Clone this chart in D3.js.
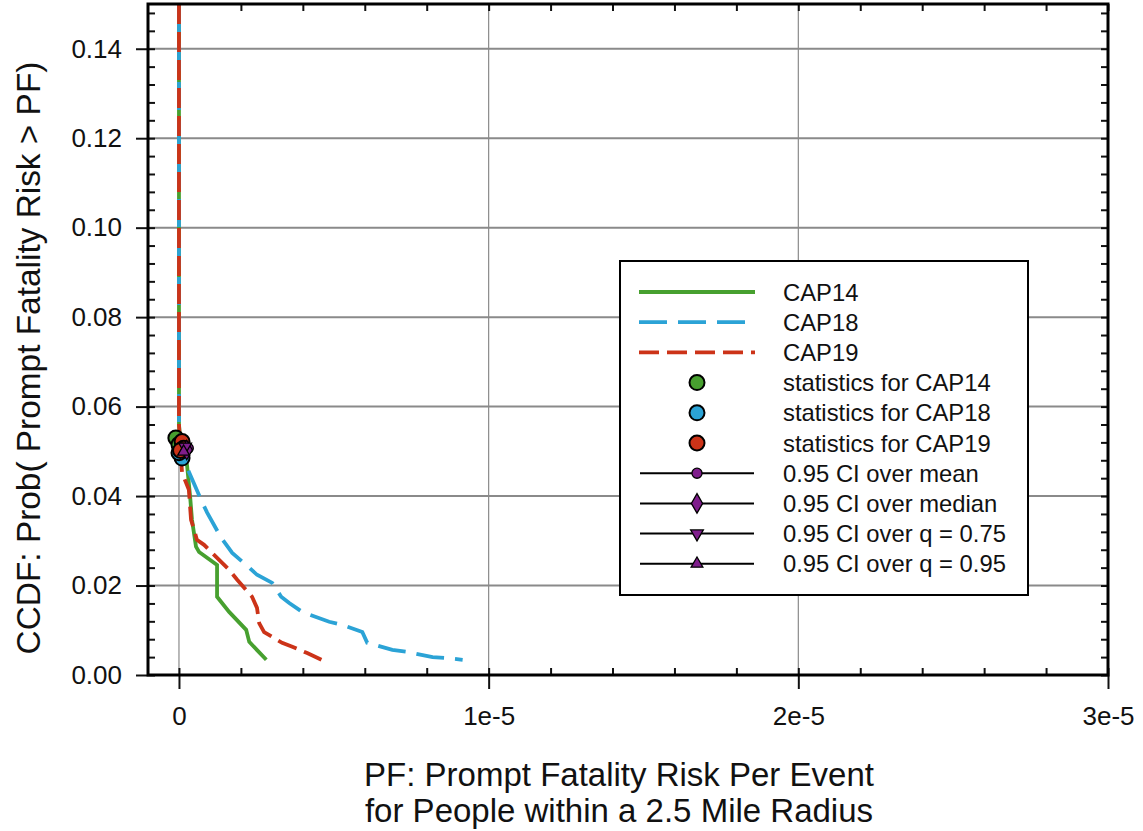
<!DOCTYPE html>
<html>
<head>
<meta charset="utf-8">
<script src="https://cdn.jsdelivr.net/npm/d3@7"></script>
<style>
  body { margin: 0; background: #fff; }
  text { font-family: "Liberation Sans", Arial, sans-serif; fill: #111; }
</style>
</head>
<body>
<script>
// CCDF curves, x = prompt fatality risk, y = Prob(risk > x)
const cap14 = [[0, 0.15], [0, 0.056], [0.05e-6, 0.052], [0.26e-6, 0.047], [0.36e-6, 0.0399], [0.42e-6, 0.0347],
  [0.55e-6, 0.0287], [0.65e-6, 0.0275], [1.23e-6, 0.0246], [1.23e-6, 0.0175], [1.62e-6, 0.0141],
  [2.17e-6, 0.0101], [2.27e-6, 0.0074], [2.82e-6, 0.0034]];
const cap18 = [[0, 0.15], [0, 0.056], [0.05e-6, 0.051], [0.26e-6, 0.0464], [0.71e-6, 0.0392], [0.91e-6, 0.0363],
  [1.36e-6, 0.0307], [1.72e-6, 0.0273], [2.27e-6, 0.024], [2.52e-6, 0.0224], [3.01e-6, 0.0206],
  [3.3e-6, 0.0175], [3.56e-6, 0.0161], [3.98e-6, 0.0141], [4.85e-6, 0.0119], [5.28e-6, 0.0112],
  [5.92e-6, 0.0096], [6.08e-6, 0.0072], [6.89e-6, 0.0056], [7.35e-6, 0.0052], [8.19e-6, 0.004],
  [8.64e-6, 0.0038], [9.16e-6, 0.0034]];
const cap19 = [[0, 0.15], [0, 0.056], [0.05e-6, 0.05], [0.1e-6, 0.0452], [0.32e-6, 0.0414], [0.39e-6, 0.0347],
  [0.49e-6, 0.0325], [0.58e-6, 0.0302], [0.81e-6, 0.0291], [1.07e-6, 0.0273], [1.62e-6, 0.0235],
  [1.88e-6, 0.0213], [2.36e-6, 0.0175], [2.52e-6, 0.015], [2.59e-6, 0.0116], [2.75e-6, 0.0096],
  [3.33e-6, 0.0072], [3.66e-6, 0.0063], [4.14e-6, 0.0049], [4.6e-6, 0.0034]];

// statistics markers (the cluster near the origin)
const stats14 = [[-0.1e-6, 0.0530], [0.0, 0.0515]];
const stats18 = [[0.1e-6, 0.0485], [0.0, 0.0497]];
const stats19 = [[0.1e-6, 0.0522], [0.15e-6, 0.0507], [0.05e-6, 0.0502]];
// confidence intervals: [low, high, center, y]
const ciMean = [[-0.1e-6, 0.4e-6, 0.3e-6, 0.0507]];
const ciMedian = [[-0.1e-6, 0.35e-6, 0.25e-6, 0.0503]];
const ciQ75 = [[-0.05e-6, 0.3e-6, 0.2e-6, 0.0510]];
const ciQ95 = [[-0.05e-6, 0.3e-6, 0.15e-6, 0.0499]];

const xMajor = [0, 1e-5, 2e-5, 3e-5];
const xTickLabels = ['0', '1e-5', '2e-5', '3e-5'];
const yMajor = [0, 0.02, 0.04, 0.06, 0.08, 0.10, 0.12, 0.14];

const legendLabels = ['CAP14', 'CAP18', 'CAP19', 'statistics for CAP14', 'statistics for CAP18',
  'statistics for CAP19', '0.95 CI over mean', '0.95 CI over median', '0.95 CI over q = 0.75', '0.95 CI over q = 0.95'];

const green = '#47a02f', blue = '#2ba3d6', red = '#cc3318', purple = '#7f1d8c';

const width = 1143, height = 831;
const svg = d3.select('body').append('svg').attr('width', width).attr('height', height);

const x = d3.scaleLinear().domain([-1e-6, 3e-5]).range([148, 1108]);
const y = d3.scaleLinear().domain([0, 0.15]).range([675, 4]);

const xMinor = d3.range(0, 3.0001e-5, 2e-6);
const yMinor = d3.range(0, 0.1501, 0.004);

// grid
svg.append('g').selectAll('line').data(yMajor.slice(1)).enter().append('line')
  .attr('x1', 148).attr('x2', 1108).attr('y1', d => y(d)).attr('y2', d => y(d))
  .attr('stroke', '#8a8a8a').attr('stroke-width', 2);
svg.append('g').selectAll('line').data(xMajor.slice(0, 3)).enter().append('line')
  .attr('x1', d => x(d)).attr('x2', d => x(d)).attr('y1', 4).attr('y2', 675)
  .attr('stroke', '#8a8a8a').attr('stroke-width', 1.2);

// minor ticks on all four sides, pointing inwards
svg.append('g').attr('transform', 'translate(148,0)')
  .call(d3.axisLeft(y).tickValues(yMinor).tickSize(-7).tickFormat(''));
svg.append('g').attr('transform', 'translate(1108,0)')
  .call(d3.axisRight(y).tickValues(yMinor).tickSize(-7).tickFormat(''));
svg.append('g').attr('transform', 'translate(0,675)')
  .call(d3.axisBottom(x).tickValues(xMinor).tickSize(-7).tickFormat(''));
svg.append('g').attr('transform', 'translate(0,4)')
  .call(d3.axisTop(x).tickValues(xMinor).tickSize(-7).tickFormat(''));

// major ticks + labels
const yAx = svg.append('g').attr('transform', 'translate(148,0)')
  .call(d3.axisLeft(y).tickValues(yMajor).tickSize(12).tickPadding(14).tickFormat(d3.format('.2f')));
const xAx = svg.append('g').attr('transform', 'translate(0,675)')
  .call(d3.axisBottom(x).tickValues(xMajor).tickSize(14).tickFormat((d, i) => xTickLabels[i]));
xAx.selectAll('text').attr('y', 32).attr('dy', '0.71em');
svg.selectAll('.domain').remove();
svg.selectAll('.tick line').attr('stroke', '#111').attr('stroke-width', 2);
svg.selectAll('.tick text').attr('font-size', 26).attr('font-family', '"Liberation Sans", Arial, sans-serif').attr('fill', '#111');

// curves
const line = d3.line().x(d => x(d[0])).y(d => y(d[1]));
const series = [
  { data: cap14, color: green, dash: null },
  { data: cap18, color: blue, dash: '28,11' },
  { data: cap19, color: red, dash: '20,8' }
];
svg.append('g').selectAll('path').data(series).enter().append('path')
  .attr('d', d => line(d.data)).attr('fill', 'none')
  .attr('stroke', d => d.color).attr('stroke-width', 3.8)
  .attr('stroke-dasharray', d => d.dash);

// CI bars
const ciAll = [ciMean, ciMedian, ciQ75, ciQ95];
svg.append('g').selectAll('line').data(ciAll.flat()).enter().append('line')
  .attr('x1', d => x(d[0])).attr('x2', d => x(d[1])).attr('y1', d => y(d[3])).attr('y2', d => y(d[3]))
  .attr('stroke', '#000').attr('stroke-width', 2);

// statistics circles
[[stats14, green], [stats18, blue], [stats19, red]].forEach(([pts, c]) => {
  svg.append('g').selectAll('circle').data(pts).enter().append('circle')
    .attr('cx', d => x(d[0])).attr('cy', d => y(d[1])).attr('r', 7.5)
    .attr('fill', c).attr('stroke', '#000').attr('stroke-width', 2);
});

const symbols = [d3.symbolCircle, d3.symbolDiamond, d3.symbolTriangle, d3.symbolTriangle];
const symSize = [80, 110, 70, 60];
const symRot = [0, 0, 180, 0];
ciAll.forEach((arr, k) => {
  svg.append('g').selectAll('path').data(arr).enter().append('path')
    .attr('d', d3.symbol().type(symbols[k]).size(symSize[k]))
    .attr('transform', d => `translate(${x(d[2])},${y(d[3])}) rotate(${symRot[k]})`)
    .attr('fill', purple).attr('stroke', '#000').attr('stroke-width', 1.3);
});

// frame
svg.append('rect').attr('x', 148).attr('y', 4).attr('width', 960).attr('height', 671)
  .attr('fill', 'none').attr('stroke', '#000').attr('stroke-width', 3);

// legend
const lg = svg.append('g');
lg.append('rect').attr('x', 620).attr('y', 261).attr('width', 408).attr('height', 334)
  .attr('fill', '#fff').attr('stroke', '#000').attr('stroke-width', 2);
const rowY = i => 292 + i * 30.2;
lg.selectAll('text').data(legendLabels).enter().append('text')
  .attr('x', 783).attr('y', (d, i) => rowY(i)).attr('dy', '0.36em')
  .attr('font-size', 23.8).text(d => d);
series.forEach((s, i) => {
  lg.append('line').attr('x1', 639).attr('x2', 755).attr('y1', rowY(i)).attr('y2', rowY(i))
    .attr('stroke', s.color).attr('stroke-width', 3.8).attr('stroke-dasharray', s.dash);
});
[green, blue, red].forEach((c, i) => {
  lg.append('circle').attr('cx', 697).attr('cy', rowY(3 + i)).attr('r', 7.5)
    .attr('fill', c).attr('stroke', '#000').attr('stroke-width', 2);
});
symbols.forEach((s, k) => {
  const yy = rowY(6 + k);
  lg.append('line').attr('x1', 640).attr('x2', 754).attr('y1', yy).attr('y2', yy)
    .attr('stroke', '#000').attr('stroke-width', 2);
  lg.append('path').attr('d', d3.symbol().type(s).size(symSize[k]))
    .attr('transform', `translate(697,${yy}) rotate(${symRot[k]})`)
    .attr('fill', purple).attr('stroke', '#000').attr('stroke-width', 1.3);
});

// axis titles
svg.append('text').attr('x', 619).attr('y', 786).attr('text-anchor', 'middle')
  .attr('font-size', 33).text('PF: Prompt Fatality Risk Per Event');
svg.append('text').attr('x', 619).attr('y', 822).attr('text-anchor', 'middle')
  .attr('font-size', 33).text('for People within a 2.5 Mile Radius');
svg.append('text').attr('transform', 'translate(40,358) rotate(-90)').attr('text-anchor', 'middle')
  .attr('font-size', 33.4).text('CCDF: Prob( Prompt Fatality Risk > PF)');
</script>
</body>
</html>
